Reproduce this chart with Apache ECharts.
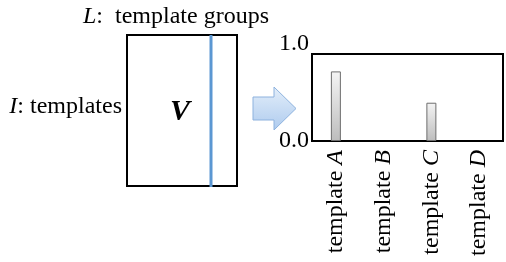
<!DOCTYPE html>
<html>
<head>
<meta charset="utf-8">
<script src="https://cdn.jsdelivr.net/npm/echarts@6/dist/echarts.min.js"></script>
<style>
	html,body{margin:0;padding:0;background:#fff;}
	#chart{width:506px;height:262px;}
</style>
</head>
<body>
<div id="chart"></div>
<script>
var categories = ['A', 'B', 'C', 'D'];
var values = [0.8, 0, 0.44, 0];
var yTicks = ['0.0', '1.0'];

var serif = 'Liberation Serif';
var fs = 24;
var chart = echarts.init(document.getElementById('chart'));

// empty bars get no outline
var barData = values.map(function (v) {
	return v > 0 ? v : {value: v, itemStyle: {borderWidth: 0, opacity: 0}};
});

var option = {
	animation: false,
	textStyle: {fontFamily: serif},
	grid: {left: 312, top: 54, right: 3, bottom: 121, show: true, borderColor: '#000', borderWidth: 2},
	xAxis: {
		type: 'category',
		data: categories,
		axisLine: {show: false},
		axisTick: {show: false},
		axisLabel: {
			rotate: 90,
			margin: 9,
			color: '#000',
			fontSize: fs,
			fontFamily: serif,
			formatter: function (v) { return 'template {i|' + v + '}'; },
			rich: {i: {fontStyle: 'italic', fontSize: fs, fontFamily: serif, color: '#000'}}
		}
	},
	yAxis: {
		type: 'value',
		min: 0,
		max: 1,
		interval: 1,
		splitLine: {show: false},
		axisLine: {show: false},
		axisTick: {show: false},
		axisLabel: {
			margin: 3,
			color: '#000',
			fontSize: fs,
			fontFamily: serif,
			formatter: function (v) {
				var s = yTicks[Math.round(v)];
				return v > 0.5 ? '{top|' + s + '}' : s;
			},
			rich: {top: {fontSize: fs, fontFamily: serif, color: '#000', padding: [0, 0, 20, 0]}}
		}
	},
	series: [{
		type: 'bar',
		data: barData,
		barWidth: 10,
		itemStyle: {
			borderColor: '#6e6e6e',
			borderWidth: 1,
			color: new echarts.graphic.LinearGradient(0, 0, 0, 1, [
				{offset: 0, color: '#f4f4f4'},
				{offset: 1, color: '#bdbdbd'}
			])
		}
	}],
	graphic: [
		// matrix V
		{type: 'rect', shape: {x: 127, y: 35, width: 110, height: 151}, style: {fill: '#fff', stroke: '#000', lineWidth: 2}},
		{type: 'line', shape: {x1: 211, y1: 35, x2: 211, y2: 187}, style: {stroke: '#5b97d2', lineWidth: 3}},
		{type: 'text', x: 180, y: 112, style: {text: 'V', fontFamily: serif, fontStyle: 'italic', fontWeight: 'bold', fontSize: 30, fill: '#000', align: 'center', verticalAlign: 'middle'}},
		{type: 'text', x: 176, y: 17, style: {
			text: '{i|L}:  template groups', align: 'center', verticalAlign: 'middle', fill: '#000',
			fontFamily: serif, fontSize: fs,
			rich: {i: {fontStyle: 'italic', fontFamily: serif, fontSize: fs}}
		}},
		{type: 'text', x: 122, y: 107, style: {
			text: '{i|I}: templates', align: 'right', verticalAlign: 'middle', fill: '#000',
			fontFamily: serif, fontSize: fs,
			rich: {i: {fontStyle: 'italic', fontFamily: serif, fontSize: fs}}
		}},
		// arrow
		{type: 'polygon', shape: {points: [[253, 97], [274, 97], [274, 87], [296, 108.5], [274, 130], [274, 120], [253, 120]]},
			style: {
				stroke: '#8db2de', lineWidth: 1,
				fill: new echarts.graphic.LinearGradient(0, 0, 0, 1, [
					{offset: 0, color: '#e3eefa'},
					{offset: 1, color: '#aecbee'}
				])
			}
		}
	]
};
chart.setOption(option);
</script>
</body>
</html>
